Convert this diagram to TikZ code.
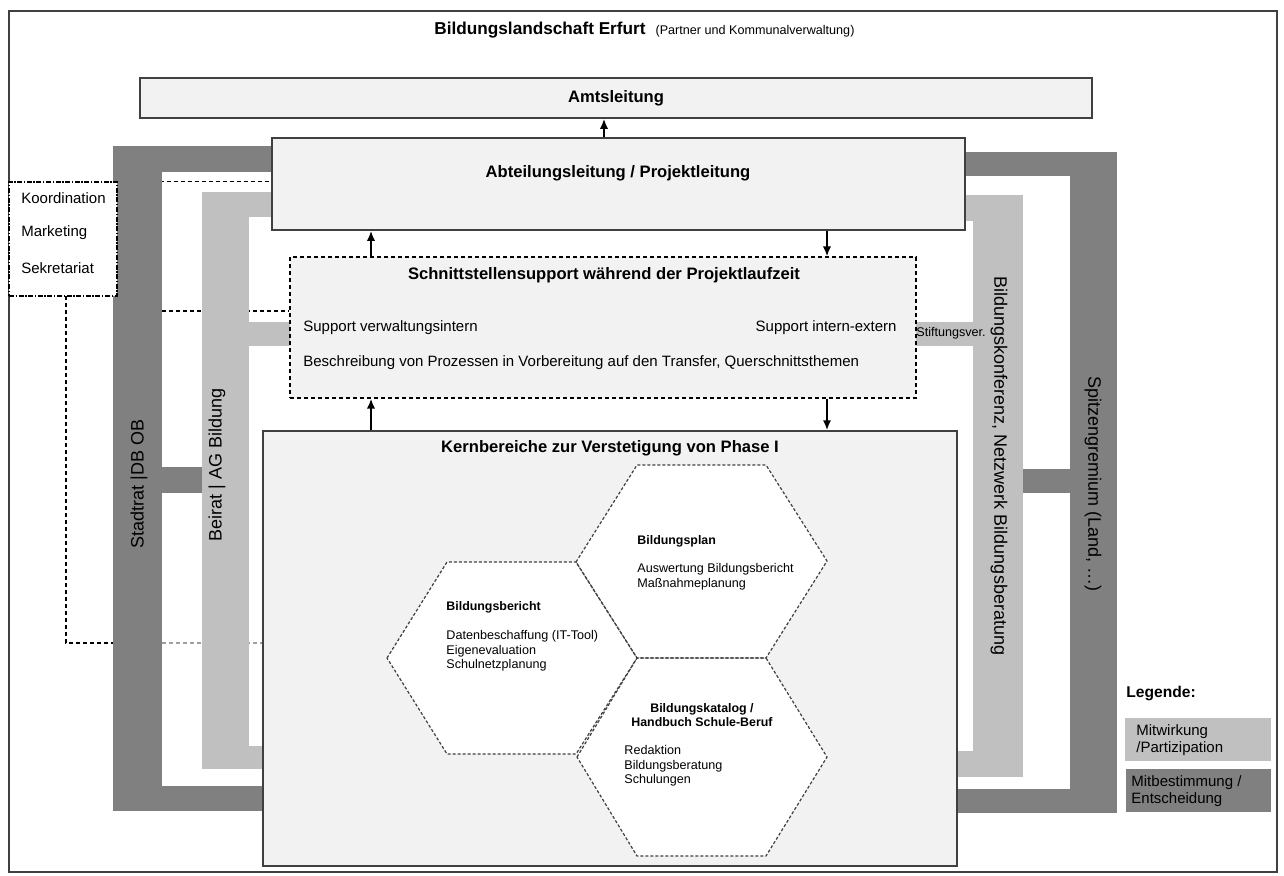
\documentclass[tikz,border=0pt]{standalone}
\usepackage{fontspec}
\setmainfont{Liberation Sans}
\usetikzlibrary{arrows.meta,fit}
\definecolor{darkbar}{HTML}{808080}
\definecolor{lightbar}{HTML}{C0C0C0}
\definecolor{boxfill}{HTML}{F2F2F2}
\definecolor{edge}{HTML}{404040}
\definecolor{dashgray}{HTML}{A0A0A0}
\pgfdeclarelayer{lines}
\pgfdeclarelayer{bars}
\pgfsetlayers{lines,bars,main}
\begin{document}
\begin{tikzpicture}[x=0.5pt,y=-0.5pt,
  box/.style={draw=edge, line width=0.75pt, fill=boxfill, inner sep=0pt},
  dbox/.style={draw=black, line width=0.6pt, dash pattern=on 2pt off 1.5pt, fill=boxfill, inner sep=0pt},
  kbox/.style={draw=black, line width=0.65pt, dash pattern=on 2.5pt off 0.8pt on 0.7pt off 0.8pt, fill=white, inner sep=0pt},
  dl/.style={draw=black, line width=0.6pt, dash pattern=on 2pt off 1.5pt},
  dlg/.style={draw=dashgray, line width=0.6pt, dash pattern=on 2pt off 1.5pt},
  hexline/.style={draw=black!75, line width=0.6pt, dash pattern=on 1.5pt off 1pt},
  head/.style={font=\fontsize{8.3}{10}\selectfont\bfseries, inner sep=0pt},
  body/.style={font=\fontsize{7.5}{9}\selectfont, inner sep=0pt, anchor=west},
  hexhead/.style={font=\fontsize{6.2}{7.3}\selectfont\bfseries, inner sep=0pt, anchor=west},
  hexbody/.style={font=\fontsize{6.3}{7.3}\selectfont, inner sep=0pt, anchor=west, align=left},
  barlabel/.style={font=\fontsize{9}{10}\selectfont, inner sep=0pt},
  legtext/.style={font=\fontsize{7.5}{8.6}\selectfont, inner sep=0pt, anchor=west, align=left},
  arr/.style={draw=black, line width=1pt, -{Latex[length=5pt,width=4.2pt]}}
]
\useasboundingbox (0,0) rectangle (1284,875);
\draw[draw=edge, line width=0.75pt] (9,11) rectangle (1277,872);

% title
\node[anchor=west, inner sep=0pt] (title) at (434,30)
  {{\fontsize{8.6}{10}\selectfont\bfseries Bildungslandschaft Erfurt}\hspace{5pt}{\fontsize{6.3}{7}\selectfont (Partner und Kommunalverwaltung)}};

% main boxes
\node[box, fit={(140,78) (1092,118)}] (amt) {};
\node[head] (amtt) at (amt.center) {Amtsleitung};
\node[box, fit={(272,138) (965,230)}] (abt) {};
\node[head] (abtt) at (618,173) {Abteilungsleitung / Projektleitung};
\node[dbox, fit={(290,257) (916,398)}] (sch) {};
\node[head] (scht) at (604,275) {Schnittstellensupport während der Projektlaufzeit};
\node[body] (s1) at (303,328) {Support verwaltungsintern};
\node[body, anchor=east] (s2) at (897,328) {Support intern-extern};
\node[body] (s3) at (303,363) {Beschreibung von Prozessen in Vorbereitung auf den Transfer, Querschnittsthemen};
\node[box, fit={(263,431) (957,866)}] (kern) {};
\node[head] (kernt) at (610,448) {Kernbereiche zur Verstetigung von Phase I};

% Koordination box
\node[kbox, fit={(9,182) (117,296)}] (koord) {};
\node[body] (k1t) at (21,198) {Koordination};
\node[body] (k2t) at (21,233) {Marketing};
\node[body] (k3t) at (21,268) {Sekretariat};

% dashed links from Koordination (behind bars)
\coordinate (kA) at (113,311);
\coordinate (kB) at (66,296);
\coordinate (kC) at (113,643);
\coordinate (kD) at (162,643);
\begin{pgfonlayer}{lines}
\draw[dl] (koord.north east) -- (koord.north east -| abt.west);
\draw[dl] (kA) -- (kA -| sch.west);
\draw[dl] (kB) -- (kB |- kC) -- (kC);
\draw[dlg] (kD) -- (kD -| kern.west);
\end{pgfonlayer}

% bars
\begin{pgfonlayer}{bars}
% left dark
\fill[darkbar] (113,146) rectangle (162,811);
\fill[darkbar] (113,146) rectangle (280,172);
\fill[darkbar] (113,786) rectangle (270,811);
\fill[darkbar] (160,467) rectangle (204,493);
% left light
\fill[lightbar] (202,192) rectangle (249,769);
\fill[lightbar] (202,192) rectangle (280,217);
\fill[lightbar] (202,746) rectangle (270,769);
\fill[lightbar] (247,322) rectangle (295,346);
% right dark
\fill[darkbar] (1070,152) rectangle (1117,813);
\fill[darkbar] (960,152) rectangle (1117,176);
\fill[darkbar] (950,789) rectangle (1117,813);
\fill[darkbar] (1021,469) rectangle (1072,493);
% right light
\fill[lightbar] (973,195) rectangle (1023,777);
\fill[lightbar] (960,195) rectangle (1023,221);
\fill[lightbar] (950,751) rectangle (1023,777);
\fill[lightbar] (910,322) rectangle (975,346);
\end{pgfonlayer}

% bar labels
\node[barlabel, rotate=90] (stadtrat) at (139,484) {Stadtrat |DB OB};
\node[barlabel, rotate=90] (beirat) at (217,465) {Beirat | AG Bildung};
\node[barlabel, rotate=-90] (bk) at (999,466) {Bildungskonferenz, Netzwerk Bildungsberatung};
\node[barlabel, rotate=-90] (spitze) at (1093,484) {Spitzengremium (Land, \dots)};
\node[font=\fontsize{6.3}{7}\selectfont, inner sep=0pt, anchor=west] (stift) at (916,333) {Stiftungsver.};

% arrows
\coordinate (ax0) at (604,0);
\coordinate (ax1) at (371,0);
\coordinate (ax2) at (827,0);
\draw[arr] (abt.north -| ax0) -- (amt.south -| ax0);
\draw[arr] (sch.north -| ax1) -- (abt.south -| ax1);
\draw[arr] (abt.south -| ax2) -- (sch.north -| ax2);
\draw[arr] (kern.north -| ax1) -- (sch.south -| ax1);
\draw[arr] (sch.south -| ax2) -- (kern.north -| ax2);

% hexagons
\coordinate (h1a) at (387,658); \coordinate (h1b) at (447,562); \coordinate (h1c) at (576,562);
\coordinate (h1d) at (637,658); \coordinate (h1e) at (576,754); \coordinate (h1f) at (447,754);
\coordinate (h2a) at (576,562); \coordinate (h2b) at (637,465); \coordinate (h2c) at (766,465);
\coordinate (h2d) at (827,561); \coordinate (h2e) at (766,658); \coordinate (h2f) at (637,658);
\coordinate (h3a) at (577,757); \coordinate (h3b) at (637,658); \coordinate (h3c) at (766,658);
\coordinate (h3d) at (827,757); \coordinate (h3e) at (766,856); \coordinate (h3f) at (637,856);
\fill[white] (h1a) -- (h1b) -- (h1c) -- (h1d) -- (h1e) -- (h1f) -- cycle;
\fill[white] (h2a) -- (h2b) -- (h2c) -- (h2d) -- (h2e) -- (h2f) -- cycle;
\fill[white] (h3a) -- (h3b) -- (h3c) -- (h3d) -- (h3e) -- (h3f) -- cycle;
\draw[hexline] (h1a) -- (h1b) -- (h1c) -- (h1d) -- (h1e) -- (h1f) -- cycle;
\draw[hexline] (h2a) -- (h2b) -- (h2c) -- (h2d) -- (h2e) -- (h2f) -- cycle;
\draw[hexline] (h3a) -- (h3b) -- (h3c) -- (h3d) -- (h3e) -- (h3f) -- cycle;

\node[hexhead] (h1t) at (446,607) {Bildungsbericht};
\node[hexbody] (h1x) at (446,651) {Datenbeschaffung (IT-Tool)\\Eigenevaluation\\Schulnetzplanung};
\node[hexhead] (h2t) at (637,541) {Bildungsplan};
\node[hexbody] (h2x) at (637,577) {Auswertung Bildungsbericht\\Maßnahmeplanung};
\node[hexhead, anchor=center, align=center] (h3t) at (702,715) {Bildungskatalog /\\Handbuch Schule-Beruf};
\node[hexbody] (h3x) at (624,766) {Redaktion\\Bildungsberatung\\Schulungen};

% legend
\node[font=\fontsize{7.8}{9}\selectfont\bfseries, inner sep=0pt, anchor=west] (leg) at (1126,693) {Legende:};
\node[fill=lightbar, inner sep=0pt, fit={(1125,718) (1271,761)}] (legl) {};
\node[legtext] (legltxt) at (1136,740) {Mitwirkung\\/Partizipation};
\node[fill=darkbar, inner sep=0pt, fit={(1126,769) (1271,812)}] (legd) {};
\node[legtext] (legdtxt) at (1131,791) {Mitbestimmung /\\Entscheidung};
\end{tikzpicture}
\end{document}
